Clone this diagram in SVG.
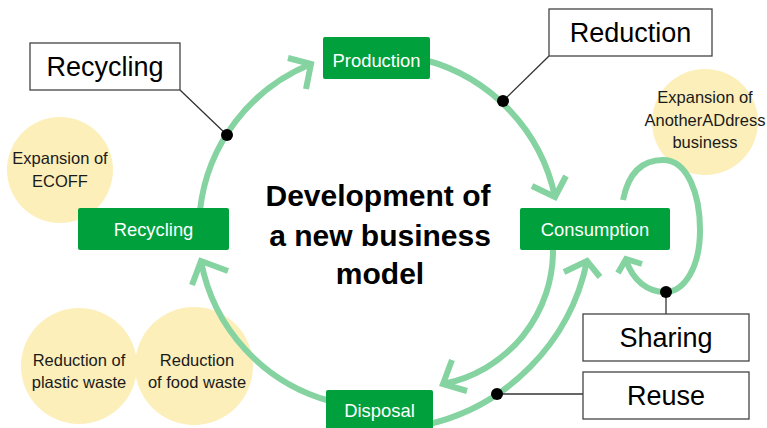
<svg xmlns="http://www.w3.org/2000/svg" width="767" height="428" viewBox="0 0 767 428">
  <style>
    .bg { fill: #ffffff; }
    .bubble { fill: #FCEFBA; }
    .bubble-text { font-family: "Liberation Sans", Arial, sans-serif; font-size: 16.5px; fill: #1a1a1a; text-anchor: middle; }
    .stage { fill: #00A13C; }
    .stage-text { font-family: "Liberation Sans", Arial, sans-serif; font-size: 18.4px; fill: #ffffff; text-anchor: middle; }
    .flow { fill: none; stroke: #84D3A0; stroke-width: 6; }
    .head { fill: none; stroke: #84D3A0; stroke-width: 6; stroke-linejoin: miter; }
    .leader { fill: none; stroke: #333333; stroke-width: 1.3; }
    .dot { fill: #000000; }
    .tag { fill: #ffffff; stroke: #444444; stroke-width: 1.3; }
    .tag-text { font-family: "Liberation Sans", Arial, sans-serif; font-size: 27px; fill: #000000; text-anchor: middle; }
    .title { font-family: "Liberation Sans", Arial, sans-serif; font-size: 30px; font-weight: bold; fill: #000000; text-anchor: middle; }
  </style>

  <rect class="bg" x="0" y="0" width="767" height="428"/>

  <!-- yellow topic bubbles -->
  <g id="bubble-ecoff">
    <circle class="bubble" cx="60" cy="170" r="53"/>
    <text class="bubble-text" x="60" y="164">Expansion of</text>
    <text class="bubble-text" x="60" y="187">ECOFF</text>
  </g>
  <g id="bubble-anotheraddress">
    <circle class="bubble" cx="705" cy="122" r="53"/>
    <text class="bubble-text" x="705" y="103">Expansion of</text>
    <text class="bubble-text" x="705" y="126">AnotherADdress</text>
    <text class="bubble-text" x="705" y="148">business</text>
  </g>
  <g id="bubble-plastic">
    <circle class="bubble" cx="79" cy="366" r="58"/>
    <text class="bubble-text" x="79" y="366">Reduction of</text>
    <text class="bubble-text" x="79" y="388">plastic waste</text>
  </g>
  <g id="bubble-food">
    <circle class="bubble" cx="194" cy="366" r="59"/>
    <text class="bubble-text" x="197" y="366">Reduction</text>
    <text class="bubble-text" x="197" y="388">of food waste</text>
  </g>

  <!-- cycle arcs, arrowheads and leader lines -->
  <g id="connectors">
    <!-- Recycling -> Production -->
    <path class="flow" d="M200,210 A179,179 0 0 1 311,64"/>
    <polyline class="head" points="288,58 311,64 306,89"/>

    <!-- Production -> Consumption -->
    <path class="flow" d="M425,60 A180,180 0 0 1 555,197"/>
    <polyline class="head" points="532,186 555,197 566,176"/>

    <!-- Consumption -> Disposal (inner) -->
    <path class="flow" d="M553,248 A136,136 0 0 1 443,384"/>
    <polyline class="head" points="452,360 443,384 467,391"/>

    <!-- Disposal -> Consumption (outer) -->
    <path class="flow" d="M425,425 A212,212 0 0 0 587,261"/>
    <polyline class="head" points="564,272 587,261 600,277"/>

    <!-- Disposal -> Recycling -->
    <path class="flow" d="M330,401 A179,179 0 0 1 201,261"/>
    <polyline class="head" points="192,285 201,261 228,271"/>

    <!-- Consumption self loop -->
    <path class="flow" d="M623,200 C629,170 645,160 663,160 C688,160 700,195 700,230 C700,268 684,292 665,292 C648,292 633,281 626,260"/>
    <polyline class="head" points="618,273 626,259 642,264"/>

    <line class="leader" x1="180" y1="90" x2="227" y2="135"/>
    <line class="leader" x1="549" y1="56" x2="503" y2="101"/>
    <line class="leader" x1="666" y1="292" x2="666" y2="314"/>
    <line class="leader" x1="497" y1="394" x2="583" y2="394"/>

    <circle class="dot" cx="227" cy="135" r="6"/>
    <circle class="dot" cx="503" cy="101" r="6"/>
    <circle class="dot" cx="666" cy="292" r="6"/>
    <circle class="dot" cx="497" cy="394" r="6"/>
  </g>

  <!-- green stage boxes -->
  <g id="stage-production">
    <rect class="stage" x="323" y="37" width="107" height="42" rx="2"/>
    <text class="stage-text" x="376.5" y="66.5">Production</text>
  </g>
  <g id="stage-consumption">
    <rect class="stage" x="520" y="208" width="150" height="42" rx="2"/>
    <text class="stage-text" x="595" y="236">Consumption</text>
  </g>
  <g id="stage-recycling">
    <rect class="stage" x="78" y="208" width="151" height="42" rx="2"/>
    <text class="stage-text" x="153.5" y="236">Recycling</text>
  </g>
  <g id="stage-disposal">
    <rect class="stage" x="326" y="390" width="107" height="42" rx="2"/>
    <text class="stage-text" x="379.5" y="417">Disposal</text>
  </g>

  <!-- white strategy tags -->
  <g id="tag-recycling">
    <rect class="tag" x="30" y="43" width="150" height="47"/>
    <text class="tag-text" x="105" y="76">Recycling</text>
  </g>
  <g id="tag-reduction">
    <rect class="tag" x="549" y="9" width="163" height="47"/>
    <text class="tag-text" x="630.5" y="42">Reduction</text>
  </g>
  <g id="tag-sharing">
    <rect class="tag" x="583" y="314" width="166" height="47"/>
    <text class="tag-text" x="666" y="347">Sharing</text>
  </g>
  <g id="tag-reuse">
    <rect class="tag" x="583" y="372" width="166" height="47"/>
    <text class="tag-text" x="666" y="404.5">Reuse</text>
  </g>

  <!-- central title -->
  <g id="title">
    <text class="title" x="378" y="206">Development of</text>
    <text class="title" x="380" y="246">a new business</text>
    <text class="title" x="380" y="284">model</text>
  </g>
</svg>
